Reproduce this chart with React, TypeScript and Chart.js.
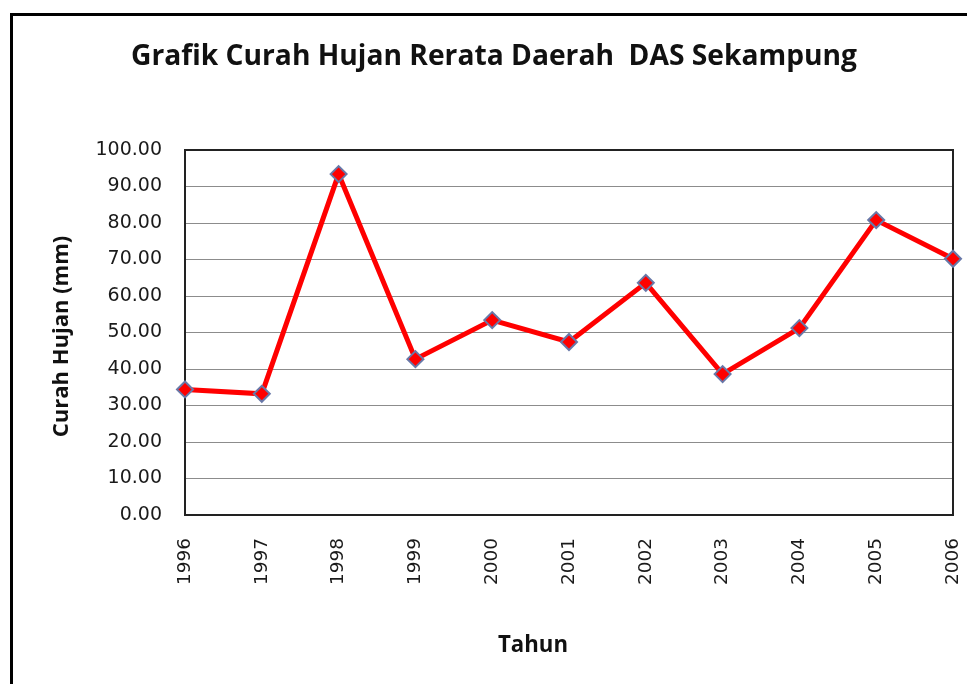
import React, { useEffect, useRef } from "react";
import { Chart, registerables } from "chart.js";

Chart.register(...registerables);

const years = ["1996", "1997", "1998", "1999", "2000", "2001", "2002", "2003", "2004", "2005", "2006"];
const rainfall = [34.4, 33.2, 93.4, 42.7, 53.4, 47.4, 63.6, 38.6, 51.2, 80.8, 70.2];
const chartTitle = "Grafik Curah Hujan Rerata Daerah  DAS Sekampung";
const yTitle = "Curah Hujan (mm)";
const xTitle = "Tahun";

const W = 967;
const H = 684;

const decorPlugin = {
  id: "decor",
  beforeDatasetsDraw(chart: any) {
    const { ctx, chartArea } = chart;
    ctx.save();
    ctx.strokeStyle = "#222";
    ctx.lineWidth = 2;
    ctx.strokeRect(chartArea.left, chartArea.top, chartArea.right - chartArea.left, chartArea.bottom - chartArea.top);
    ctx.restore();
  },
  afterDraw(chart: any) {
    const { ctx, chartArea } = chart;
    ctx.save();
    // outer frame
    ctx.strokeStyle = "#000";
    ctx.lineWidth = 3;
    ctx.strokeRect(11.5, 14.5, 1200, 1200);
    ctx.fillStyle = "#111";
    // main title
    ctx.font = "bold 29px 'Open Sans'";
    ctx.textAlign = "center";
    ctx.textBaseline = "alphabetic";
    ctx.fillText(chartTitle, 494, 65, 726);
    // x title
    ctx.font = "bold 24px 'Open Sans'";
    ctx.textBaseline = "middle";
    ctx.fillText(xTitle, 533, 645, 70);
    // y title
    ctx.translate(62, (chartArea.top + chartArea.bottom) / 2 + 4);
    ctx.rotate(-Math.PI / 2);
    ctx.font = "bold 22px 'Open Sans'";
    ctx.fillText(yTitle, 0, 0, 230);
    ctx.restore();
  },
};

export default function App() {
  const ref = useRef<HTMLCanvasElement | null>(null);
  useEffect(() => {
    if (!ref.current) return;
    const chart = new Chart(ref.current, {
      type: "line",
      data: {
        labels: years,
        datasets: [
          {
            data: rainfall,
            borderColor: "#FF0000",
            borderWidth: 5,
            pointStyle: "rectRot",
            pointRadius: 8,
            pointBackgroundColor: "#FF0000",
            pointBorderColor: "#6878A8",
            pointBorderWidth: 2,
            tension: 0,
            clip: false as any,
          },
        ],
      },
      options: {
        responsive: false,
        animation: false,
        layout: { padding: { top: 150, right: 14, bottom: 0, left: 0 } },
        plugins: {
          legend: { display: false },
          title: { display: false },
          tooltip: { enabled: false },
        },
        scales: {
          x: {
            offset: false,
            grid: { display: false, drawTicks: false },
            border: { display: false },
            ticks: {
              minRotation: 90,
              maxRotation: 90,
              padding: 23,
              color: "#1a1a1a",
              font: { family: "'DejaVu Sans'", size: 18.5 },
              autoSkip: false,
            },
            afterFit(scale: any) {
              scale.height = 169;
              scale.paddingLeft = 0;
              scale.paddingRight = 0;
            },
          },
          y: {
            min: 0,
            max: 100,
            grid: { color: "#8c8c8c", lineWidth: 1, drawTicks: false },
            border: { display: false },
            ticks: {
              stepSize: 10,
              padding: 23,
              color: "#1a1a1a",
              font: { family: "'DejaVu Sans'", size: 19 },
              callback: (v: any) => Number(v).toFixed(2),
            },
            afterFit(scale: any) {
              scale.width = 185;
              scale.paddingTop = 0;
              scale.paddingBottom = 0;
            },
          },
        },
      },
      plugins: [decorPlugin],
    });
    return () => chart.destroy();
  }, []);
  return (
    <div style={{ position: "absolute", left: 0, top: 0, width: W, height: H, background: "#fff" }}>
      <canvas ref={ref} width={W} height={H} style={{ display: "block" }} />
    </div>
  );
}
